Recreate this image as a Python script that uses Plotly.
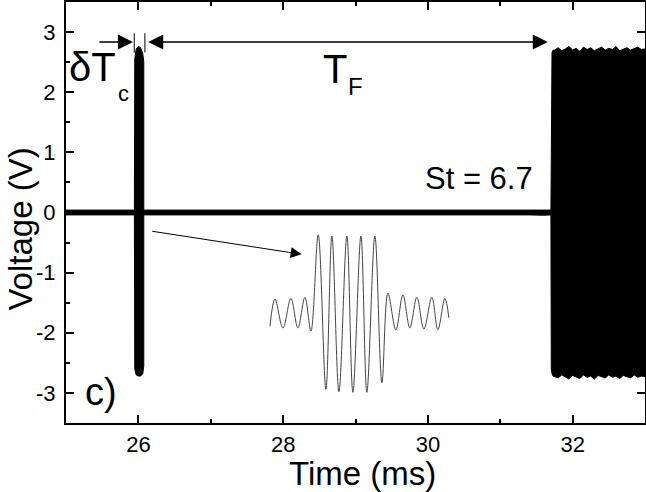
import numpy as np
import plotly.graph_objects as go

FONT = "Liberation Sans, Arial, sans-serif"

# baseline noise band (envelope of the trace between the two bursts)
base_t = [25.0, 25.2, 25.4, 25.6, 25.8, 26.0, 26.2, 26.4, 26.6, 26.8, 27.0, 27.2,
          27.4, 27.6, 27.8, 28.0, 28.2, 28.4, 28.6, 28.8, 29.0, 29.2, 29.4, 29.6,
          29.8, 30.0, 30.2, 30.4, 30.6, 30.8, 31.0, 31.2, 31.4, 31.6, 31.7]
base_hi = [0.04, 0.04, 0.045, 0.04, 0.04, 0.035, 0.04, 0.04, 0.045, 0.04, 0.04, 0.04,
           0.04, 0.045, 0.04, 0.04, 0.035, 0.04, 0.04, 0.045, 0.04, 0.04, 0.04, 0.035,
           0.04, 0.045, 0.04, 0.04, 0.04, 0.04, 0.045, 0.04, 0.04, 0.035, 0.04]
base_lo = [-0.04, -0.04, -0.035, -0.045, -0.04, -0.04, -0.04, -0.04, -0.035, -0.04, -0.045, -0.04,
           -0.04, -0.04, -0.04, -0.035, -0.045, -0.04, -0.04, -0.04, -0.04, -0.035, -0.045, -0.04,
           -0.04, -0.04, -0.035, -0.04, -0.045, -0.04, -0.04, -0.04, -0.04, -0.045, -0.04]

# short burst near 26 ms (envelope)
b1_t = [25.945, 25.95, 25.97, 26.0, 26.03, 26.06, 26.075, 26.08]
b1_hi = [0.0, 2.55, 2.72, 2.76, 2.74, 2.65, 2.5, 0.0]
b1_lo = [0.0, -2.6, -2.7, -2.72, -2.72, -2.68, -2.55, 0.0]

# long burst from ~31.7 ms (envelope)
b2_t = [31.70, 31.705, 31.715, 31.73, 31.75, 31.80, 31.85, 31.90, 31.95, 32.00,
        32.05, 32.10, 32.15, 32.20, 32.25, 32.30, 32.35, 32.40, 32.45, 32.50,
        32.55, 32.60, 32.65, 32.70, 32.75, 32.80, 32.85, 32.90, 32.95, 33.00]
b2_hi = [0.0, 2.55, 2.66, 2.70, 2.70, 2.74, 2.69, 2.72, 2.76, 2.70, 2.73, 2.68, 2.75, 2.71,
         2.74, 2.69, 2.72, 2.75, 2.70, 2.73, 2.71, 2.76, 2.69, 2.72, 2.74, 2.70, 2.73,
         2.75, 2.71, 2.72]
b2_lo = [0.0, -2.6, -2.68, -2.72, -2.72, -2.75, -2.70, -2.74, -2.77, -2.71, -2.73, -2.76,
         -2.70, -2.74, -2.72, -2.77, -2.71, -2.73, -2.75, -2.70, -2.74, -2.72, -2.76,
         -2.71, -2.73, -2.75, -2.70, -2.74, -2.72, -2.73]

# zoomed-in waveform of the short burst (peaks and troughs)
zoom_t = [27.818, 27.887, 27.997, 28.108, 28.204, 28.301, 28.384, 28.485, 28.591,
          28.674, 28.771, 28.881, 28.964, 29.075, 29.157, 29.268, 29.365, 29.448,
          29.558, 29.655, 29.751, 29.848, 29.945, 30.055, 30.138, 30.235, 30.290]
zoom_v = [-1.89, -1.44, -1.92, -1.43, -1.92, -1.41, -1.97, -0.37, -2.94,
          -0.39, -2.98, -0.39, -2.99, -0.39, -2.99, -0.39, -2.83, -1.34,
          -1.95, -1.37, -1.92, -1.41, -1.94, -1.41, -1.95, -1.43, -1.75]

x_ticks = [26, 28, 30, 32]
y_ticks = [-3, -2, -1, 0, 1, 2, 3]
y_ticktext = ['-3', '-2', '-1', '0', '1', '2', '3']


def band(t, hi, lo):
    return (np.concatenate([t, t[::-1]]),
            np.concatenate([hi, lo[::-1]]))


fig = go.Figure()
for t, hi, lo in [(base_t, base_hi, base_lo), (b1_t, b1_hi, b1_lo), (b2_t, b2_hi, b2_lo)]:
    xs, ys = band(np.array(t), np.array(hi), np.array(lo))
    fig.add_trace(go.Scatter(x=xs, y=ys, mode='lines', fill='toself',
                             fillcolor='black', line=dict(color='black', width=1),
                             hoverinfo='skip', showlegend=False))

fig.add_trace(go.Scatter(x=zoom_t, y=zoom_v, mode='lines',
                         line=dict(color='#444444', width=1, shape='spline', smoothing=1.0),
                         showlegend=False))

arrow = dict(xref='x', yref='y', axref='x', ayref='y', text='', showarrow=True,
             arrowcolor='black', arrowwidth=1.5, arrowhead=2, arrowsize=2)
# delta Tc arrow (left) and T_F double arrow
fig.add_annotation(x=25.925, y=2.835, ax=25.44, ay=2.835, **arrow)
fig.add_annotation(x=31.657, y=2.835, ax=26.115, ay=2.835, arrowside='end+start', **arrow)
# arrow pointing to zoom
fig.add_annotation(x=28.256, y=-0.695, ax=26.17, ay=-0.308,
                   **{**arrow, 'arrowwidth': 1, 'arrowsize': 2.2})

for tx in [25.943, 26.09]:
    fig.add_shape(type='line', x0=tx, x1=tx, y0=2.66, y1=2.98,
                  line=dict(color='black', width=1))


def label(x, y, s, size, **kw):
    fig.add_annotation(x=x, y=y, text=s, showarrow=False,
                       font=dict(family=FONT, size=size, color='black'), **kw)


label(25.36, 2.42, 'δT', 40, xref='x', yref='y')
label(25.79, 1.98, 'c', 22, xref='x', yref='y')
label(28.72, 2.39, 'T', 40, xref='x', yref='y')
label(29.0, 2.1, 'F', 24, xref='x', yref='y')
label(30.70, 0.57, 'St = 6.7', 31, xref='x', yref='y')
label(25.48, -2.99, 'c)', 38, xref='x', yref='y')
# axis titles
label(29.1, -0.121, 'Time (ms)', 33, xref='x', yref='paper', yanchor='middle')
label(-0.079, 0.46, 'Voltage (V)', 33, xref='paper', yref='paper', textangle=-90,
      xanchor='center')

axis = dict(showline=True, linecolor='black', linewidth=2, mirror='ticks',
            ticks='inside', ticklen=8, tickwidth=1.5, tickcolor='black',
            showgrid=False, zeroline=False, automargin=False,
            tickfont=dict(family=FONT, size=22, color='black'))

fig.update_xaxes(range=[25, 33], tickvals=x_ticks,
                 minor=dict(ticks='inside', ticklen=4, tickwidth=1.5, tickcolor='black',
                            tick0=25, dtick=1, showgrid=False),
                 ticklabelstandoff=1,
                 **axis)
fig.update_yaxes(range=[-3.5, 3.5], tickvals=y_ticks, ticktext=y_ticktext,
                 minor=dict(ticks='inside', ticklen=4, tickwidth=1.5, tickcolor='black',
                            tick0=-3.5, dtick=0.5, showgrid=False),
                 ticklabelstandoff=4,
                 **axis)

fig.update_layout(width=646, height=492, margin=dict(l=66, r=1, t=2, b=69),
                  plot_bgcolor='white', paper_bgcolor='white', showlegend=False)

fig.write_html("out.html", config={'displayModeBar': False},
               post_script="document.body.style.margin='0';")
